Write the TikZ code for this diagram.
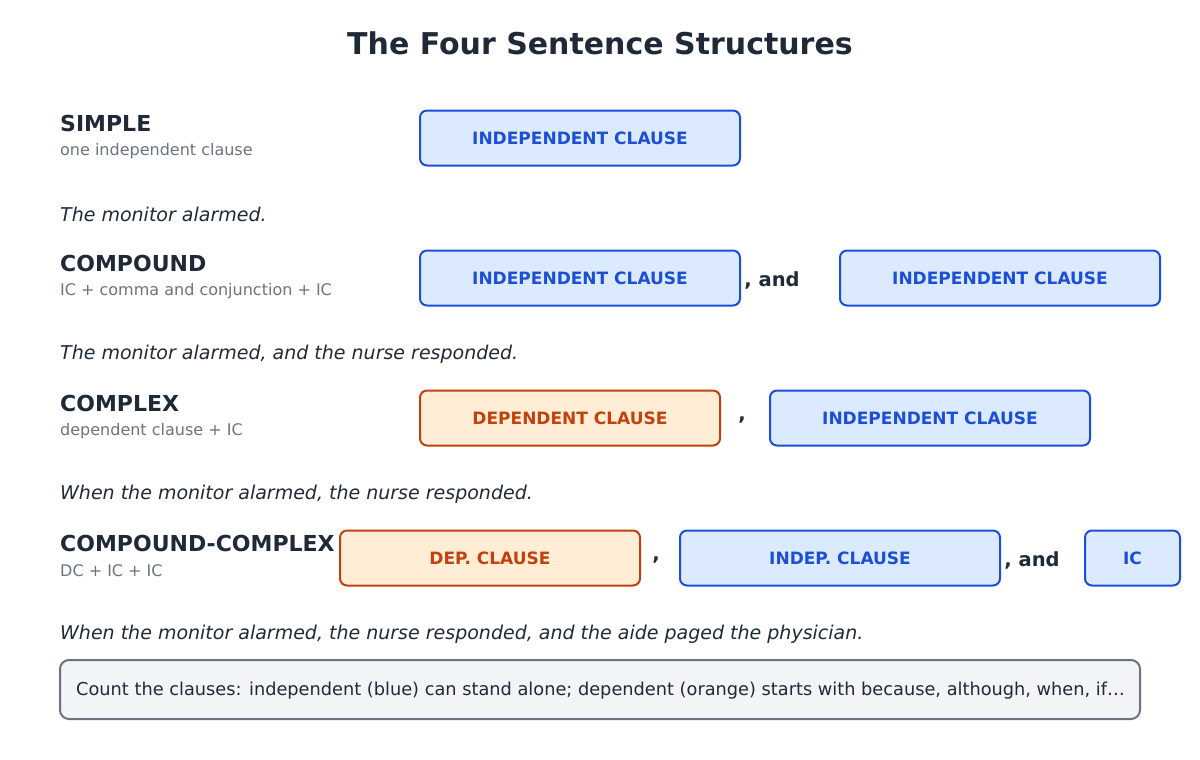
\documentclass[tikz,border=0pt]{standalone}
\usepackage{fontspec}
\setmainfont{DejaVu Sans}
\usepackage{tikz}
\usetikzlibrary{positioning}

\definecolor{ink}{HTML}{1F2937}
\definecolor{mute}{HTML}{6B7280}
\definecolor{indline}{HTML}{1D4ED8}
\definecolor{indfill}{HTML}{DBEAFE}
\definecolor{depline}{HTML}{C2410C}
\definecolor{depfill}{HTML}{FFEDD5}
\definecolor{notefill}{HTML}{F3F4F6}

\begin{document}
\begin{tikzpicture}[x=1pt, y=-1pt,
  indbox/.style={draw=indline, fill=indfill, line width=2pt, rounded corners=7pt,
    text=indline, font=\fontsize{17}{20}\selectfont\bfseries, minimum height=55pt, inner sep=0pt},
  depbox/.style={draw=depline, fill=depfill, line width=2pt, rounded corners=7pt,
    text=depline, font=\fontsize{17}{20}\selectfont\bfseries, minimum height=55pt, inner sep=0pt},
  kind/.style={anchor=west, inner sep=0pt, text=ink, font=\fontsize{22}{26}\selectfont\bfseries},
  rule/.style={anchor=west, inner sep=0pt, text=mute, font=\fontsize{16}{19}\selectfont},
  example/.style={anchor=west, inner sep=0pt, text=ink, font=\fontsize{19}{23}\selectfont\itshape},
  joiner/.style={inner sep=0pt, text=ink, font=\fontsize{19.5}{23}\selectfont\bfseries}]
  \useasboundingbox (0,0) rectangle (1200,760);

  \node[text=ink, font=\fontsize{30}{36}\selectfont\bfseries] (title) at (600,43) {The Four Sentence Structures};

  % simple
  \node[kind] (simple) at (60,123) {SIMPLE};
  \node[rule] (simpleRule) at (60,151) {one independent clause};
  \node[indbox, minimum width=320pt] (simpleIC) at (580,138) {INDEPENDENT CLAUSE};
  \node[example] (simpleEx) at (60,214) {The monitor alarmed.};

  % compound
  \node[kind] (compound) at (60,263) {COMPOUND};
  \node[rule] (compoundRule) at (60,291) {IC + comma and conjunction + IC};
  \node[indbox, minimum width=320pt] (compoundICa) at (580,278) {INDEPENDENT CLAUSE};
  \node[joiner] (compoundAnd) at (772,280) {, and};
  \node[indbox, minimum width=320pt] (compoundICb) at (1000,278) {INDEPENDENT CLAUSE};
  \node[example] (compoundEx) at (60,354) {The monitor alarmed, and the nurse responded.};

  % complex
  \node[kind] (complex) at (60,403) {COMPLEX};
  \node[rule] (complexRule) at (60,431) {dependent clause + IC};
  \node[depbox, minimum width=300pt] (complexDC) at (570,418) {DEPENDENT CLAUSE};
  \node[joiner] (complexComma) at (742,420) {,};
  \node[indbox, minimum width=320pt] (complexIC) at (930,418) {INDEPENDENT CLAUSE};
  \node[example] (complexEx) at (60,494) {When the monitor alarmed, the nurse responded.};

  % compound-complex
  \node[kind] (cc) at (60,543) {COMPOUND-COMPLEX};
  \node[rule] (ccRule) at (60,571) {DC + IC + IC};
  \node[depbox, minimum width=300pt] (ccDC) at (490,558) {DEP. CLAUSE};
  \node[joiner] (ccComma) at (656,560) {,};
  \node[indbox, minimum width=320pt] (ccICa) at (840,558) {INDEP. CLAUSE};
  \node[joiner] (ccAnd) at (1032,560) {, and};
  \node[indbox, minimum width=95pt] (ccICb) at (1132.5,558) {IC};
  \node[example] (ccEx) at (60,634) {When the monitor alarmed, the nurse responded, and the aide paged the physician.};

  % note
  \node[draw=mute, fill=notefill, line width=2pt, rounded corners=9pt, minimum width=1080pt,
    minimum height=59pt, inner sep=0pt] (note) at (600,689.5) {};
  \node[anchor=west, inner sep=0pt, text=ink, font=\fontsize{17.75}{21}\selectfont] (noteText) at (76,691)
    {Count the clauses: independent (blue) can stand alone; dependent (orange) starts with because, although, when, if…};
\end{tikzpicture}
\end{document}
